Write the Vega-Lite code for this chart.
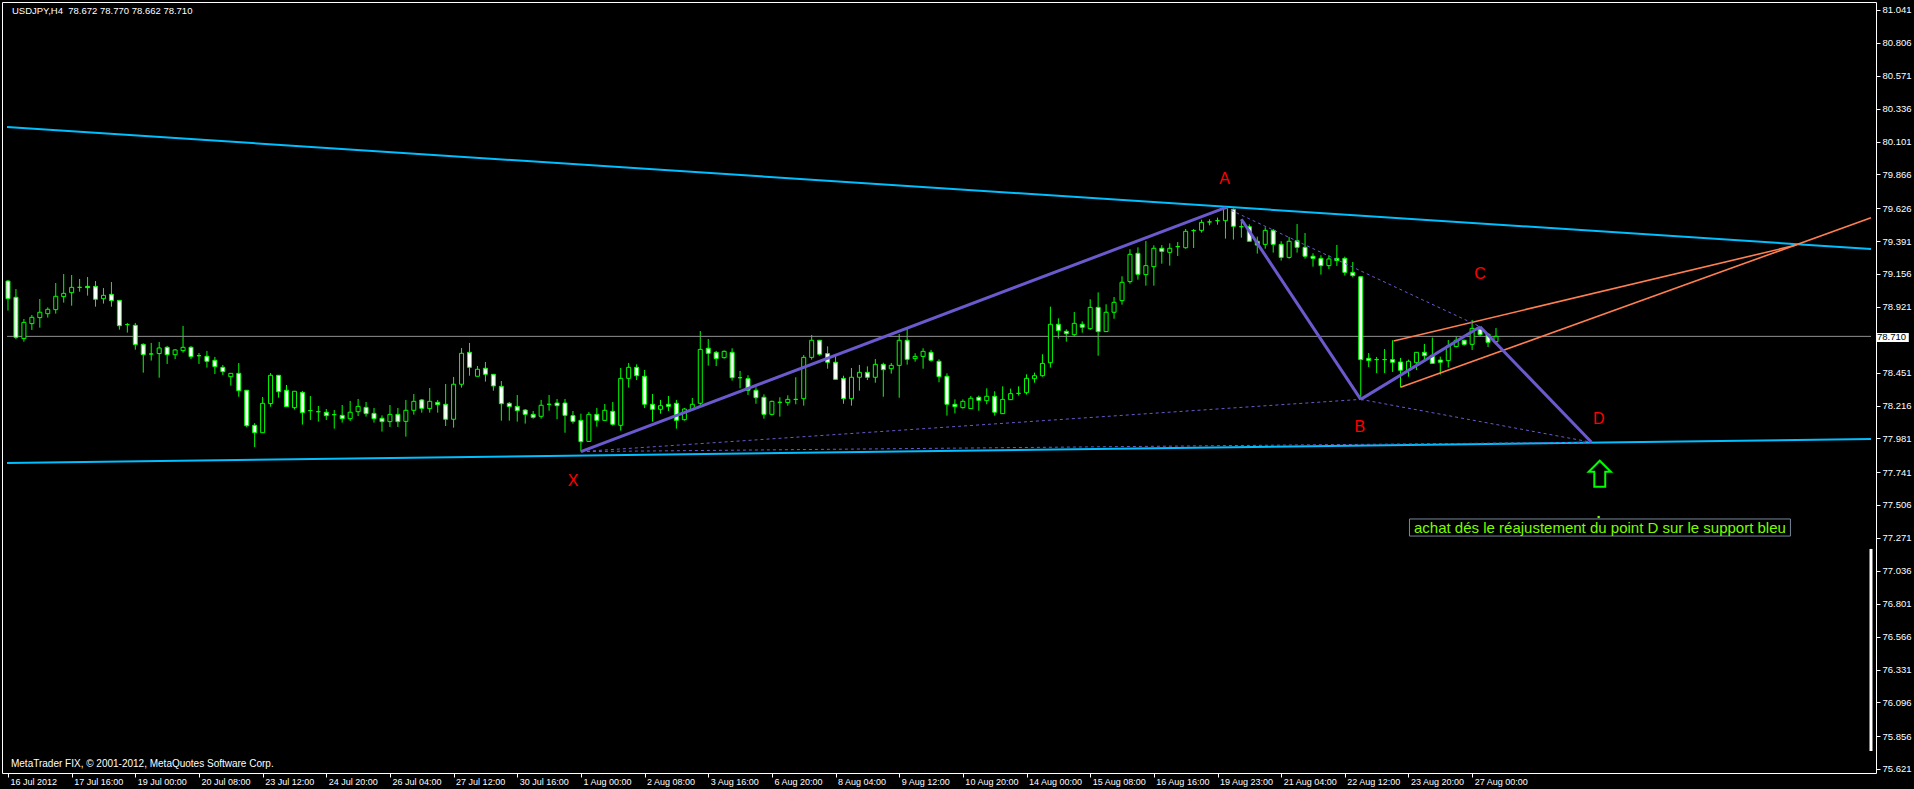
{
  "$schema": "https://vega.github.io/schema/vega-lite/v6.json",
  "width": 1874,
  "height": 771,
  "autosize": "none",
  "padding": {"left": 2, "top": 2, "right": 38, "bottom": 16},
  "background": "black",
  "config": {"view": {"stroke": "white", "strokeWidth": 1}, "font": "Liberation Sans"},
  "data": {"values": [{}]},
  "datasets": {
    "candles": [
      {"i":0,"o":79.105,"h":79.113,"l":78.894,"c":78.979},
      {"i":1,"o":78.989,"h":79.048,"l":78.689,"c":78.703},
      {"i":2,"o":78.694,"h":78.834,"l":78.672,"c":78.810},
      {"i":3,"o":78.801,"h":78.863,"l":78.756,"c":78.846},
      {"i":4,"o":78.844,"h":78.977,"l":78.772,"c":78.882},
      {"i":5,"o":78.872,"h":78.917,"l":78.844,"c":78.903},
      {"i":6,"o":78.901,"h":79.091,"l":78.872,"c":78.996},
      {"i":7,"o":78.994,"h":79.155,"l":78.951,"c":79.017},
      {"i":8,"o":79.022,"h":79.148,"l":78.929,"c":79.060},
      {"i":9,"o":79.060,"h":79.120,"l":79.029,"c":79.060},
      {"i":10,"o":79.067,"h":79.134,"l":79.001,"c":79.058},
      {"i":11,"o":79.067,"h":79.105,"l":78.922,"c":78.975},
      {"i":12,"o":78.979,"h":79.055,"l":78.944,"c":79.003},
      {"i":13,"o":79.010,"h":79.098,"l":78.922,"c":78.965},
      {"i":14,"o":78.967,"h":78.967,"l":78.758,"c":78.786},
      {"i":15,"o":78.794,"h":78.806,"l":78.737,"c":78.794},
      {"i":16,"o":78.789,"h":78.806,"l":78.615,"c":78.651},
      {"i":17,"o":78.653,"h":78.660,"l":78.451,"c":78.579},
      {"i":18,"o":78.584,"h":78.663,"l":78.537,"c":78.584},
      {"i":19,"o":78.587,"h":78.670,"l":78.415,"c":78.627},
      {"i":20,"o":78.632,"h":78.641,"l":78.513,"c":78.579},
      {"i":21,"o":78.579,"h":78.620,"l":78.548,"c":78.613},
      {"i":22,"o":78.608,"h":78.784,"l":78.594,"c":78.632},
      {"i":23,"o":78.632,"h":78.641,"l":78.548,"c":78.565},
      {"i":24,"o":78.572,"h":78.591,"l":78.513,"c":78.572},
      {"i":25,"o":78.568,"h":78.606,"l":78.487,"c":78.532},
      {"i":26,"o":78.539,"h":78.563,"l":78.441,"c":78.494},
      {"i":27,"o":78.489,"h":78.506,"l":78.434,"c":78.458},
      {"i":28,"o":78.422,"h":78.446,"l":78.358,"c":78.446},
      {"i":29,"o":78.446,"h":78.520,"l":78.279,"c":78.322},
      {"i":30,"o":78.325,"h":78.325,"l":78.061,"c":78.072},
      {"i":31,"o":78.075,"h":78.091,"l":77.920,"c":78.022},
      {"i":32,"o":78.022,"h":78.277,"l":78.022,"c":78.232},
      {"i":33,"o":78.230,"h":78.448,"l":78.208,"c":78.432},
      {"i":34,"o":78.432,"h":78.432,"l":78.272,"c":78.315},
      {"i":35,"o":78.325,"h":78.363,"l":78.208,"c":78.208},
      {"i":36,"o":78.201,"h":78.318,"l":78.187,"c":78.318},
      {"i":37,"o":78.310,"h":78.320,"l":78.080,"c":78.165},
      {"i":38,"o":78.180,"h":78.284,"l":78.113,"c":78.180},
      {"i":39,"o":78.172,"h":78.213,"l":78.101,"c":78.172},
      {"i":40,"o":78.168,"h":78.191,"l":78.113,"c":78.144},
      {"i":41,"o":78.151,"h":78.184,"l":78.051,"c":78.151},
      {"i":42,"o":78.146,"h":78.220,"l":78.094,"c":78.122},
      {"i":43,"o":78.122,"h":78.249,"l":78.106,"c":78.168},
      {"i":44,"o":78.172,"h":78.263,"l":78.141,"c":78.210},
      {"i":45,"o":78.203,"h":78.241,"l":78.137,"c":78.158},
      {"i":46,"o":78.160,"h":78.199,"l":78.094,"c":78.122},
      {"i":47,"o":78.125,"h":78.146,"l":78.030,"c":78.101},
      {"i":48,"o":78.101,"h":78.220,"l":78.063,"c":78.153},
      {"i":49,"o":78.153,"h":78.199,"l":78.063,"c":78.101},
      {"i":50,"o":78.103,"h":78.256,"l":77.994,"c":78.182},
      {"i":51,"o":78.182,"h":78.298,"l":78.151,"c":78.246},
      {"i":52,"o":78.256,"h":78.263,"l":78.165,"c":78.196},
      {"i":53,"o":78.194,"h":78.341,"l":78.165,"c":78.246},
      {"i":54,"o":78.239,"h":78.256,"l":78.165,"c":78.222},
      {"i":55,"o":78.225,"h":78.370,"l":78.070,"c":78.118},
      {"i":56,"o":78.118,"h":78.420,"l":78.058,"c":78.368},
      {"i":57,"o":78.368,"h":78.627,"l":78.344,"c":78.589},
      {"i":58,"o":78.596,"h":78.663,"l":78.429,"c":78.489},
      {"i":59,"o":78.425,"h":78.498,"l":78.425,"c":78.475},
      {"i":60,"o":78.482,"h":78.527,"l":78.387,"c":78.439},
      {"i":61,"o":78.439,"h":78.439,"l":78.322,"c":78.356},
      {"i":62,"o":78.353,"h":78.391,"l":78.108,"c":78.229},
      {"i":63,"o":78.232,"h":78.241,"l":78.108,"c":78.208},
      {"i":64,"o":78.210,"h":78.291,"l":78.101,"c":78.179},
      {"i":65,"o":78.184,"h":78.191,"l":78.087,"c":78.153},
      {"i":66,"o":78.153,"h":78.177,"l":78.122,"c":78.132},
      {"i":67,"o":78.139,"h":78.256,"l":78.122,"c":78.218},
      {"i":68,"o":78.225,"h":78.291,"l":78.179,"c":78.225},
      {"i":69,"o":78.234,"h":78.263,"l":78.118,"c":78.215},
      {"i":70,"o":78.234,"h":78.263,"l":78.022,"c":78.146},
      {"i":71,"o":78.144,"h":78.177,"l":78.087,"c":78.103},
      {"i":72,"o":78.110,"h":78.158,"l":77.887,"c":77.958},
      {"i":73,"o":77.960,"h":78.170,"l":77.960,"c":78.153},
      {"i":74,"o":78.153,"h":78.199,"l":78.065,"c":78.110},
      {"i":75,"o":78.110,"h":78.227,"l":78.110,"c":78.182},
      {"i":76,"o":78.175,"h":78.241,"l":78.072,"c":78.082},
      {"i":77,"o":78.075,"h":78.484,"l":78.037,"c":78.410},
      {"i":78,"o":78.410,"h":78.520,"l":78.344,"c":78.489},
      {"i":79,"o":78.489,"h":78.510,"l":78.398,"c":78.429},
      {"i":80,"o":78.425,"h":78.470,"l":78.199,"c":78.225},
      {"i":81,"o":78.225,"h":78.298,"l":78.101,"c":78.189},
      {"i":82,"o":78.189,"h":78.256,"l":78.158,"c":78.215},
      {"i":83,"o":78.225,"h":78.284,"l":78.177,"c":78.210},
      {"i":84,"o":78.232,"h":78.256,"l":78.051,"c":78.110},
      {"i":85,"o":78.115,"h":78.199,"l":78.108,"c":78.191},
      {"i":86,"o":78.189,"h":78.270,"l":78.177,"c":78.225},
      {"i":87,"o":78.232,"h":78.748,"l":78.213,"c":78.617},
      {"i":88,"o":78.625,"h":78.691,"l":78.501,"c":78.589},
      {"i":89,"o":78.596,"h":78.606,"l":78.498,"c":78.551},
      {"i":90,"o":78.558,"h":78.610,"l":78.551,"c":78.603},
      {"i":91,"o":78.596,"h":78.625,"l":78.394,"c":78.415},
      {"i":92,"o":78.415,"h":78.463,"l":78.339,"c":78.415},
      {"i":93,"o":78.408,"h":78.432,"l":78.291,"c":78.325},
      {"i":94,"o":78.325,"h":78.346,"l":78.229,"c":78.272},
      {"i":95,"o":78.275,"h":78.296,"l":78.122,"c":78.153},
      {"i":96,"o":78.153,"h":78.251,"l":78.146,"c":78.246},
      {"i":97,"o":78.239,"h":78.275,"l":78.137,"c":78.239},
      {"i":98,"o":78.237,"h":78.289,"l":78.215,"c":78.260},
      {"i":99,"o":78.260,"h":78.418,"l":78.225,"c":78.260},
      {"i":100,"o":78.265,"h":78.577,"l":78.215,"c":78.560},
      {"i":101,"o":78.560,"h":78.720,"l":78.544,"c":78.682},
      {"i":102,"o":78.682,"h":78.682,"l":78.572,"c":78.582},
      {"i":103,"o":78.587,"h":78.639,"l":78.479,"c":78.525},
      {"i":104,"o":78.525,"h":78.570,"l":78.403,"c":78.403},
      {"i":105,"o":78.410,"h":78.429,"l":78.229,"c":78.265},
      {"i":106,"o":78.265,"h":78.484,"l":78.215,"c":78.418},
      {"i":107,"o":78.418,"h":78.506,"l":78.322,"c":78.453},
      {"i":108,"o":78.453,"h":78.496,"l":78.398,"c":78.418},
      {"i":109,"o":78.418,"h":78.548,"l":78.379,"c":78.510},
      {"i":110,"o":78.510,"h":78.522,"l":78.279,"c":78.472},
      {"i":111,"o":78.479,"h":78.520,"l":78.444,"c":78.503},
      {"i":112,"o":78.503,"h":78.727,"l":78.272,"c":78.682},
      {"i":113,"o":78.682,"h":78.772,"l":78.508,"c":78.546},
      {"i":114,"o":78.551,"h":78.589,"l":78.529,"c":78.567},
      {"i":115,"o":78.567,"h":78.625,"l":78.479,"c":78.603},
      {"i":116,"o":78.596,"h":78.613,"l":78.529,"c":78.539},
      {"i":117,"o":78.532,"h":78.546,"l":78.382,"c":78.422},
      {"i":118,"o":78.425,"h":78.446,"l":78.144,"c":78.225},
      {"i":119,"o":78.225,"h":78.260,"l":78.160,"c":78.208},
      {"i":120,"o":78.201,"h":78.260,"l":78.194,"c":78.246},
      {"i":121,"o":78.194,"h":78.284,"l":78.194,"c":78.268},
      {"i":122,"o":78.275,"h":78.287,"l":78.179,"c":78.253},
      {"i":123,"o":78.251,"h":78.339,"l":78.225,"c":78.282},
      {"i":124,"o":78.282,"h":78.318,"l":78.144,"c":78.168},
      {"i":125,"o":78.158,"h":78.353,"l":78.158,"c":78.260},
      {"i":126,"o":78.258,"h":78.337,"l":78.258,"c":78.301},
      {"i":127,"o":78.303,"h":78.353,"l":78.287,"c":78.303},
      {"i":128,"o":78.308,"h":78.439,"l":78.294,"c":78.410},
      {"i":129,"o":78.408,"h":78.451,"l":78.379,"c":78.429},
      {"i":130,"o":78.429,"h":78.582,"l":78.422,"c":78.517},
      {"i":131,"o":78.522,"h":78.922,"l":78.487,"c":78.796},
      {"i":132,"o":78.796,"h":78.839,"l":78.694,"c":78.751},
      {"i":133,"o":78.746,"h":78.760,"l":78.672,"c":78.729},
      {"i":134,"o":78.722,"h":78.884,"l":78.708,"c":78.803},
      {"i":135,"o":78.796,"h":78.817,"l":78.736,"c":78.775},
      {"i":136,"o":78.765,"h":78.975,"l":78.756,"c":78.917},
      {"i":137,"o":78.917,"h":79.024,"l":78.572,"c":78.744},
      {"i":138,"o":78.744,"h":78.939,"l":78.744,"c":78.882},
      {"i":139,"o":78.882,"h":78.991,"l":78.836,"c":78.953},
      {"i":140,"o":78.965,"h":79.139,"l":78.936,"c":79.096},
      {"i":141,"o":79.101,"h":79.332,"l":79.086,"c":79.296},
      {"i":142,"o":79.303,"h":79.346,"l":79.115,"c":79.153},
      {"i":143,"o":79.151,"h":79.391,"l":79.072,"c":79.215},
      {"i":144,"o":79.208,"h":79.360,"l":79.072,"c":79.339},
      {"i":145,"o":79.339,"h":79.362,"l":79.229,"c":79.317},
      {"i":146,"o":79.310,"h":79.374,"l":79.215,"c":79.339},
      {"i":147,"o":79.351,"h":79.384,"l":79.284,"c":79.351},
      {"i":148,"o":79.343,"h":79.477,"l":79.336,"c":79.460},
      {"i":149,"o":79.465,"h":79.477,"l":79.341,"c":79.465},
      {"i":150,"o":79.467,"h":79.543,"l":79.451,"c":79.524},
      {"i":151,"o":79.527,"h":79.546,"l":79.503,"c":79.527},
      {"i":152,"o":79.536,"h":79.558,"l":79.508,"c":79.536},
      {"i":153,"o":79.536,"h":79.629,"l":79.408,"c":79.622},
      {"i":154,"o":79.617,"h":79.624,"l":79.401,"c":79.496},
      {"i":155,"o":79.493,"h":79.546,"l":79.415,"c":79.493},
      {"i":156,"o":79.493,"h":79.510,"l":79.389,"c":79.389},
      {"i":157,"o":79.389,"h":79.422,"l":79.301,"c":79.362},
      {"i":158,"o":79.367,"h":79.489,"l":79.336,"c":79.467},
      {"i":159,"o":79.467,"h":79.477,"l":79.308,"c":79.367},
      {"i":160,"o":79.367,"h":79.389,"l":79.251,"c":79.274},
      {"i":161,"o":79.274,"h":79.420,"l":79.265,"c":79.389},
      {"i":162,"o":79.393,"h":79.512,"l":79.308,"c":79.346},
      {"i":163,"o":79.346,"h":79.448,"l":79.265,"c":79.282},
      {"i":164,"o":79.282,"h":79.303,"l":79.208,"c":79.267},
      {"i":165,"o":79.267,"h":79.289,"l":79.151,"c":79.215},
      {"i":166,"o":79.215,"h":79.289,"l":79.191,"c":79.263},
      {"i":167,"o":79.267,"h":79.363,"l":79.213,"c":79.251},
      {"i":168,"o":79.267,"h":79.279,"l":79.144,"c":79.167},
      {"i":169,"o":79.167,"h":79.241,"l":79.132,"c":79.144},
      {"i":170,"o":79.136,"h":79.141,"l":78.260,"c":78.544},
      {"i":171,"o":78.553,"h":78.591,"l":78.491,"c":78.537},
      {"i":172,"o":78.544,"h":78.563,"l":78.448,"c":78.544},
      {"i":173,"o":78.544,"h":78.620,"l":78.448,"c":78.544},
      {"i":174,"o":78.544,"h":78.682,"l":78.456,"c":78.525},
      {"i":175,"o":78.527,"h":78.556,"l":78.346,"c":78.468},
      {"i":176,"o":78.468,"h":78.544,"l":78.422,"c":78.532},
      {"i":177,"o":78.522,"h":78.596,"l":78.470,"c":78.596},
      {"i":178,"o":78.596,"h":78.656,"l":78.527,"c":78.572},
      {"i":179,"o":78.575,"h":78.701,"l":78.517,"c":78.517},
      {"i":180,"o":78.541,"h":78.565,"l":78.437,"c":78.525},
      {"i":181,"o":78.537,"h":78.684,"l":78.487,"c":78.641},
      {"i":182,"o":78.637,"h":78.708,"l":78.632,"c":78.682},
      {"i":183,"o":78.682,"h":78.686,"l":78.644,"c":78.653},
      {"i":184,"o":78.653,"h":78.827,"l":78.613,"c":78.767},
      {"i":185,"o":78.760,"h":78.779,"l":78.708,"c":78.722},
      {"i":186,"o":78.725,"h":78.734,"l":78.634,"c":78.667},
      {"i":187,"o":78.672,"h":78.770,"l":78.662,"c":78.710}
    ],
    "lines": [
      {"id":"XA","kind":"zig","i":72,"p":77.887},{"id":"XA","kind":"zig","i":153,"p":79.629},
      {"id":"AB","kind":"zig","i":155,"p":79.546},{"id":"AB","kind":"zig","i":170,"p":78.260},
      {"id":"BC","kind":"zig","i":170,"p":78.260},{"id":"BC","kind":"zig","i":185,"p":78.779},
      {"id":"CD","kind":"zig","i":185,"p":78.779},{"id":"CD","kind":"zig","i":199,"p":77.954},
      {"id":"XB","kind":"dot","i":72,"p":77.887},{"id":"XB","kind":"dot","i":170,"p":78.260},
      {"id":"AC","kind":"dot","i":153,"p":79.629},{"id":"AC","kind":"dot","i":185,"p":78.779},
      {"id":"BD","kind":"dot","i":170,"p":78.260},{"id":"BD","kind":"dot","i":199,"p":77.954},
      {"id":"XD","kind":"dot","i":72,"p":77.887},{"id":"XD","kind":"dot","i":199,"p":77.954},
      {"id":"resistance","kind":"cyan","i":-0.125,"p":80.205},{"id":"resistance","kind":"cyan","i":234.125,"p":79.334},
      {"id":"support","kind":"cyan","i":-0.125,"p":77.806},{"id":"support","kind":"cyan","i":234.125,"p":77.977},
      {"id":"chanTop","kind":"orange","i":174.125,"p":78.677},{"id":"chanTop","kind":"orange","i":224.75,"p":79.362},
      {"id":"chanBot","kind":"orange","i":175,"p":78.346},{"id":"chanBot","kind":"orange","i":234.125,"p":79.557}
    ],
    "labels": [
      {"name":"A","i":152.9,"p":79.834},
      {"name":"B","i":169.9,"p":78.063},
      {"name":"C","i":185,"p":79.155},
      {"name":"D","i":199.9,"p":78.120},
      {"name":"X","i":71,"p":77.677}
    ]
  },
  "layer": [
    {
      "data": {"name": "candles"},
      "mark": {"type": "rule", "color": "#00FF00", "strokeWidth": 1, "clip": true},
      "encoding": {
        "x": {"field": "i", "type": "quantitative", "scale": {"domain": [-0.125, 234.125], "nice": false, "zero": false},
          "axis": {"orient": "bottom", "title": null, "grid": false, "domain": false, "tickCount": 60,
            "values": [0,8,16,24,32,40,48,56,64,72,80,88,96,104,112,120,128,136,144,152,160,168,176,184],
            "labelExpr": "['16 Jul 2012','17 Jul 16:00','19 Jul 00:00','20 Jul 08:00','23 Jul 12:00','24 Jul 20:00','26 Jul 04:00','27 Jul 12:00','30 Jul 16:00','1 Aug 00:00','2 Aug 08:00','3 Aug 16:00','6 Aug 20:00','8 Aug 04:00','9 Aug 12:00','10 Aug 20:00','14 Aug 00:00','15 Aug 08:00','16 Aug 16:00','19 Aug 23:00','21 Aug 04:00','22 Aug 12:00','23 Aug 20:00','27 Aug 00:00'][round(datum.value/8)]",
            "labelAlign": "left", "labelBaseline": "top", "labelColor": "white", "labelFontSize": 9,
            "labelPadding": 0, "labelOffset": 2, "labelFlush": false, "labelOverlap": false, "labelBound": false,
            "tickColor": "white", "tickSize": 4, "tickWidth": 1}},
        "y": {"field": "l", "type": "quantitative", "scale": {"domain": [75.592, 81.0977], "nice": false, "zero": false},
          "axis": {"orient": "right", "title": null, "grid": false, "domain": false, "tickCount": 60,
            "values": [81.041,80.806,80.571,80.336,80.101,79.866,79.626,79.391,79.156,78.921,78.451,78.216,77.981,77.741,77.506,77.271,77.036,76.801,76.566,76.331,76.096,75.856,75.621],
            "format": ".3f", "labelColor": "white", "labelFontSize": 9.5, "labelBaseline": "middle",
            "labelPadding": 2, "labelFlush": false, "labelOverlap": false, "labelBound": false,
            "tickColor": "white", "tickSize": 4, "tickWidth": 1}},
        "y2": {"field": "h"}
      }
    },
    {
      "mark": {"type": "rule", "color": "#909090", "strokeWidth": 1},
      "encoding": {
        "x": {"datum": -0.125, "type": "quantitative"},
        "x2": {"datum": 234.125},
        "y": {"datum": 78.710, "type": "quantitative"}
      }
    },
    {
      "data": {"name": "candles"},
      "mark": {"type": "bar", "size": 4, "stroke": "#00FF00", "strokeWidth": 1, "clip": true},
      "encoding": {
        "x": {"field": "i", "type": "quantitative"},
        "y": {"field": "o", "type": "quantitative"},
        "y2": {"field": "c"},
        "fill": {"condition": {"test": "datum.c < datum.o", "value": "white"}, "value": "black"}
      }
    },
    {
      "data": {"name": "lines"},
      "transform": [{"filter": "datum.kind == 'cyan'"}],
      "mark": {"type": "line", "color": "#00BFFF", "strokeWidth": 2, "clip": true},
      "encoding": {
        "x": {"field": "i", "type": "quantitative"},
        "y": {"field": "p", "type": "quantitative"},
        "detail": {"field": "id"}
      }
    },
    {
      "data": {"name": "lines"},
      "transform": [{"filter": "datum.kind == 'orange'"}],
      "mark": {"type": "line", "color": "#FF7F50", "strokeWidth": 1.6, "clip": true},
      "encoding": {
        "x": {"field": "i", "type": "quantitative"},
        "y": {"field": "p", "type": "quantitative"},
        "detail": {"field": "id"}
      }
    },
    {
      "data": {"name": "lines"},
      "transform": [{"filter": "datum.kind == 'dot'"}],
      "mark": {"type": "line", "color": "#6A5ACD", "strokeWidth": 1, "strokeDash": [3, 3], "clip": true},
      "encoding": {
        "x": {"field": "i", "type": "quantitative"},
        "y": {"field": "p", "type": "quantitative"},
        "detail": {"field": "id"}
      }
    },
    {
      "data": {"name": "lines"},
      "transform": [{"filter": "datum.kind == 'zig'"}],
      "mark": {"type": "line", "color": "#6A5ACD", "strokeWidth": 3, "clip": true},
      "encoding": {
        "x": {"field": "i", "type": "quantitative"},
        "y": {"field": "p", "type": "quantitative"},
        "detail": {"field": "id"}
      }
    },
    {
      "data": {"name": "labels"},
      "mark": {"type": "text", "color": "#FF0000", "fontSize": 16, "align": "center", "baseline": "middle"},
      "encoding": {
        "x": {"field": "i", "type": "quantitative"},
        "y": {"field": "p", "type": "quantitative"},
        "text": {"field": "name"}
      }
    },
    {
      "mark": {"type": "point", "shape": "M0,-1L0.85,-0.15L0.42,-0.15L0.42,1L-0.42,1L-0.42,-0.15L-0.85,-0.15Z", "filled": false, "stroke": "#00FF00", "strokeWidth": 2, "size": 676, "opacity": 1},
      "encoding": {
        "x": {"datum": 200.04, "type": "quantitative"},
        "y": {"datum": 77.729, "type": "quantitative"}
      }
    },
    {
      "mark": {"type": "square", "color": "#7CFC00", "size": 5, "opacity": 1},
      "encoding": {
        "x": {"datum": 199.9, "type": "quantitative"},
        "y": {"datum": 77.420, "type": "quantitative"}
      }
    },
    {
      "mark": {"type": "rect", "fill": "black", "fillOpacity": 0, "stroke": "#778899", "strokeWidth": 1},
      "encoding": {
        "x": {"datum": 176.125, "type": "quantitative"},
        "x2": {"datum": 224},
        "y": {"datum": 77.406, "type": "quantitative"},
        "y2": {"datum": 77.284}
      }
    },
    {
      "mark": {"type": "text", "text": "achat dés le réajustement du point D sur le support bleu", "color": "#7CFC00", "fontSize": 15, "align": "center", "baseline": "middle"},
      "encoding": {
        "x": {"datum": 200.06, "type": "quantitative"},
        "y": {"datum": 77.345, "type": "quantitative"}
      }
    },
    {
      "mark": {"type": "text", "text": "USDJPY,H4\u00a0 78.672 78.770 78.662 78.710", "color": "white", "fontSize": 9.5, "align": "left", "baseline": "middle"},
      "encoding": {
        "x": {"datum": 0.5, "type": "quantitative"},
        "y": {"datum": 81.037, "type": "quantitative"}
      }
    },
    {
      "mark": {"type": "text", "text": "MetaTrader FIX, © 2001-2012, MetaQuotes Software Corp.", "color": "white", "fontSize": 10, "align": "left", "baseline": "middle"},
      "encoding": {
        "x": {"datum": 0.375, "type": "quantitative"},
        "y": {"datum": 75.656, "type": "quantitative"}
      }
    },
    {
      "mark": {"type": "rule", "color": "white", "strokeWidth": 3, "clip": false},
      "encoding": {
        "x": {"datum": 234.125, "type": "quantitative"},
        "y": {"datum": 77.192, "type": "quantitative"},
        "y2": {"datum": 75.749}
      }
    },
    {
      "mark": {"type": "rect", "fill": "white", "clip": false},
      "encoding": {
        "x": {"datum": 234.75, "type": "quantitative"},
        "x2": {"datum": 238.875},
        "y": {"datum": 78.734, "type": "quantitative"},
        "y2": {"datum": 78.670}
      }
    },
    {
      "mark": {"type": "text", "text": "78.710", "color": "black", "fontSize": 9.5, "align": "left", "baseline": "middle", "clip": false},
      "encoding": {
        "x": {"datum": 234.875, "type": "quantitative"},
        "y": {"datum": 78.702, "type": "quantitative"}
      }
    }
  ]
}
